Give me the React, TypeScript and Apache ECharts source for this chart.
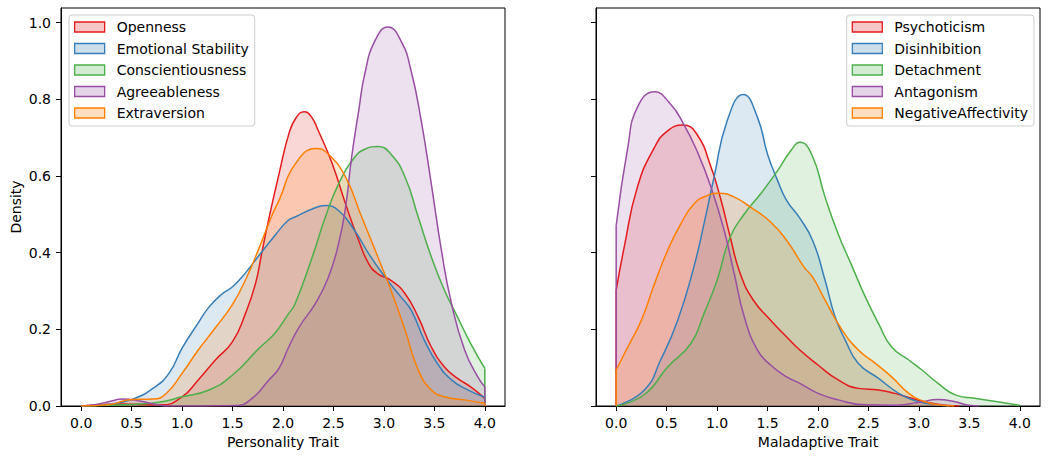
import React, { useEffect, useRef } from 'react';
import * as echarts from 'echarts';

const personalityNames = ['Openness', 'Emotional Stability', 'Conscientiousness', 'Agreeableness', 'Extraversion'];
const maladaptiveNames = ['Psychoticism', 'Disinhibition', 'Detachment', 'Antagonism', 'NegativeAffectivity'];
const palette = ['#e41a1c', '#377eb8', '#4daf4a', '#984ea3', '#ff7f00'];
const xTicks = [0, 0.5, 1, 1.5, 2, 2.5, 3, 3.5, 4];
const yTicks = [0, 0.2, 0.4, 0.6, 0.8, 1.0];

type Pt = [number, number];

const openness: Pt[] = [[0, 0], [0.4, 0.005], [0.8, 0.003], [1.0, 0.024], [1.16, 0.068], [1.33, 0.12], [1.5, 0.168], [1.63, 0.243], [1.73, 0.322], [1.79, 0.4], [1.86, 0.489], [1.96, 0.605], [2.06, 0.712], [2.13, 0.752], [2.21, 0.768], [2.28, 0.755], [2.35, 0.718], [2.49, 0.631], [2.62, 0.527], [2.75, 0.432], [2.85, 0.371], [2.94, 0.345], [3.07, 0.328], [3.21, 0.293], [3.34, 0.232], [3.47, 0.154], [3.6, 0.102], [3.73, 0.072], [3.86, 0.05], [4.0, 0.02]];
const emotionalStability: Pt[] = [[0, 0], [0.25, 0.004], [0.5, 0.017], [0.71, 0.046], [0.87, 0.085], [1.0, 0.151], [1.16, 0.217], [1.26, 0.256], [1.39, 0.291], [1.5, 0.311], [1.63, 0.348], [1.76, 0.392], [1.92, 0.445], [2.05, 0.484], [2.12, 0.493], [2.29, 0.514], [2.42, 0.523], [2.55, 0.51], [2.71, 0.458], [2.85, 0.397], [3.01, 0.337], [3.17, 0.284], [3.27, 0.25], [3.4, 0.172], [3.53, 0.111], [3.67, 0.068], [3.83, 0.042], [4.0, 0.023]];
const conscientiousness: Pt[] = [[0, 0], [0.25, 0.002], [0.5, 0.004], [0.77, 0.01], [1.0, 0.024], [1.26, 0.041], [1.5, 0.081], [1.76, 0.15], [1.92, 0.19], [2.05, 0.239], [2.12, 0.267], [2.29, 0.389], [2.42, 0.493], [2.55, 0.579], [2.71, 0.649], [2.81, 0.67], [2.94, 0.677], [3.07, 0.657], [3.21, 0.597], [3.34, 0.493], [3.47, 0.389], [3.6, 0.302], [3.73, 0.232], [3.86, 0.163], [4.0, 0.098]];
const agreeableness: Pt[] = [[0, 0], [0.15, 0.004], [0.28, 0.012], [0.41, 0.018], [0.58, 0.013], [0.74, 0.004], [0.87, 0.0], [1.2, 0], [1.53, 0.001], [1.69, 0.019], [1.86, 0.068], [1.96, 0.098], [2.05, 0.15], [2.16, 0.206], [2.32, 0.267], [2.45, 0.336], [2.55, 0.423], [2.62, 0.519], [2.68, 0.649], [2.75, 0.77], [2.81, 0.866], [2.91, 0.952], [3.04, 0.989], [3.17, 0.952], [3.27, 0.874], [3.37, 0.744], [3.47, 0.579], [3.57, 0.406], [3.67, 0.267], [3.8, 0.146], [3.93, 0.076], [4.0, 0.05]];
const extraversion: Pt[] = [[0, 0], [0.28, 0.004], [0.5, 0.017], [0.71, 0.018], [0.84, 0.032], [1.0, 0.085], [1.16, 0.146], [1.33, 0.204], [1.5, 0.265], [1.63, 0.33], [1.76, 0.41], [1.89, 0.497], [1.96, 0.536], [2.12, 0.631], [2.33, 0.672], [2.45, 0.657], [2.62, 0.597], [2.78, 0.493], [2.94, 0.389], [3.07, 0.302], [3.21, 0.198], [3.34, 0.094], [3.47, 0.042], [3.6, 0.024], [3.8, 0.016], [4.0, 0.007]];

const psychoticism: Pt[] = [[0, 0.302], [0.08, 0.415], [0.21, 0.571], [0.38, 0.675], [0.51, 0.718], [0.66, 0.733], [0.8, 0.709], [0.94, 0.623], [1.04, 0.536], [1.13, 0.441], [1.23, 0.345], [1.36, 0.276], [1.53, 0.224], [1.69, 0.18], [1.82, 0.146], [2.0, 0.107], [2.2, 0.068], [2.4, 0.046], [2.6, 0.042], [2.76, 0.033], [2.93, 0.02], [3.09, 0.009], [3.26, 0.002], [3.4, 0]];
const disinhibition: Pt[] = [[0, 0], [0.28, 0.042], [0.44, 0.12], [0.61, 0.224], [0.77, 0.363], [0.87, 0.475], [0.97, 0.597], [1.1, 0.744], [1.26, 0.813], [1.4, 0.753], [1.5, 0.657], [1.6, 0.588], [1.69, 0.536], [1.82, 0.49], [1.95, 0.43], [2.07, 0.328], [2.17, 0.232], [2.27, 0.172], [2.4, 0.111], [2.6, 0.072], [2.8, 0.033], [2.96, 0.014], [3.12, 0.005], [3.3, 0]];
const detachment: Pt[] = [[0, 0], [0.28, 0.03], [0.51, 0.102], [0.74, 0.163], [0.87, 0.241], [1.0, 0.328], [1.13, 0.441], [1.27, 0.501], [1.43, 0.553], [1.6, 0.614], [1.73, 0.666], [1.82, 0.688], [1.94, 0.655], [2.07, 0.545], [2.2, 0.449], [2.34, 0.363], [2.47, 0.284], [2.6, 0.215], [2.73, 0.154], [2.9, 0.12], [3.03, 0.094], [3.19, 0.059], [3.36, 0.029], [3.55, 0.02], [3.78, 0.011], [4.0, 0.002]];
const antagonism: Pt[] = [[0, 0.471], [0.115, 0.675], [0.21, 0.779], [0.38, 0.82], [0.54, 0.787], [0.67, 0.735], [0.8, 0.666], [0.94, 0.571], [1.07, 0.458], [1.17, 0.345], [1.27, 0.232], [1.4, 0.146], [1.53, 0.107], [1.69, 0.076], [1.82, 0.059], [2.0, 0.033], [2.2, 0.016], [2.47, 0.003], [2.76, 0.002], [2.99, 0.009], [3.19, 0.017], [3.36, 0.011], [3.49, 0.002], [3.6, 0]];
const negativeAffectivity: Pt[] = [[0, 0.094], [0.115, 0.154], [0.25, 0.224], [0.38, 0.319], [0.51, 0.406], [0.64, 0.475], [0.77, 0.527], [0.9, 0.549], [1.02, 0.555], [1.17, 0.545], [1.33, 0.519], [1.53, 0.48], [1.69, 0.432], [1.86, 0.363], [1.95, 0.335], [2.07, 0.276], [2.24, 0.198], [2.4, 0.146], [2.57, 0.111], [2.73, 0.076], [2.9, 0.033], [3.06, 0.011], [3.22, 0.002], [3.35, 0]];

const personalityData = [openness, emotionalStability, conscientiousness, agreeableness, extraversion];
const maladaptiveData = [psychoticism, disinhibition, detachment, antagonism, negativeAffectivity];

const FONT = 'DejaVu Sans';

function rgba(hex: string, a: number) {
  const n = parseInt(hex.slice(1), 16);
  return `rgba(${(n >> 16) & 255},${(n >> 8) & 255},${n & 255},${a})`;
}

function buildSeries(names: string[], data: Pt[][], idx: number) {
  const out: any[] = [];
  for (let i = 0; i < names.length; i++) {
    const col = palette[i];
    const pts = data[i];
    out.push({
      type: 'line',
      name: names[i],
      xAxisIndex: idx,
      yAxisIndex: idx,
      data: pts,
      smooth: 0.5,
      showSymbol: false,
      symbol: 'none',
      lineStyle: { color: col, width: 1.5 },
      itemStyle: { color: col },
      areaStyle: { color: rgba(col, 0.25), origin: 'start' },
      silent: true,
    });
    const first = pts[0];
    const last = pts[pts.length - 1];
    [first, last].forEach((p) => {
      if (p[1] > 0) {
        out.push({
          type: 'line',
          xAxisIndex: idx,
          yAxisIndex: idx,
          data: [[p[0], 0], p],
          showSymbol: false,
          symbol: 'none',
          lineStyle: { color: col, width: 1.5 },
          silent: true,
        });
      }
    });
  }
  return out;
}

export default function App() {
  const ref = useRef<HTMLDivElement>(null);
  useEffect(() => {
    if (!ref.current) return;
    const chart = echarts.init(ref.current, null, { renderer: 'svg' });
    const allY = [...personalityData, ...maladaptiveData].flat().map((p) => p[1]);
    const yMax = Math.max(...allY) * 1.05;
    const axisText = { color: '#000', fontFamily: FONT, fontSize: 14 };
    const xAxisBase = (idx: number, name: string) => ({
      type: 'value',
      gridIndex: idx,
      min: -0.2,
      max: 4.2,
      name,
      nameLocation: 'middle',
      nameGap: 29,
      nameTextStyle: axisText,
      axisLine: { show: true, onZero: false, lineStyle: { color: '#000', width: 1 } },
      axisTick: { show: true, length: 5, lineStyle: { color: '#000', width: 1 }, customValues: xTicks },
      axisLabel: { ...axisText, margin: 10, customValues: xTicks, formatter: (v: number) => v.toFixed(1) },
      splitLine: { show: false },
    });
    const yAxisBase = (idx: number, showLabels: boolean) => ({
      type: 'value',
      gridIndex: idx,
      min: 0,
      max: yMax,
      name: showLabels ? 'Density' : '',
      nameLocation: 'middle',
      nameGap: 38,
      nameTextStyle: axisText,
      axisLine: { show: true, onZero: false, lineStyle: { color: '#000', width: 1 } },
      axisTick: { show: true, length: 5, lineStyle: { color: '#000', width: 1 }, customValues: yTicks },
      axisLabel: { ...axisText, show: showLabels, margin: 10, customValues: yTicks, formatter: (v: number) => v.toFixed(1) },
      splitLine: { show: false },
    });
    const legendBase = (names: string[]) => ({
      orient: 'vertical',
      top: 15,
      padding: [5, 6, 6, 5],
      itemWidth: 30,
      itemHeight: 10,
      itemGap: 7.5,
      selectedMode: false,
      backgroundColor: 'rgba(255,255,255,0.8)',
      borderColor: '#cccccc',
      borderWidth: 1,
      borderRadius: 3,
      textStyle: { color: '#000', fontFamily: FONT, fontSize: 14, lineHeight: 14, padding: [0, 0, 0, 7] },
      data: names.map((n, i) => ({
        name: n,
        icon: 'rect',
        itemStyle: { color: rgba(palette[i], 0.25), borderColor: palette[i], borderWidth: 1.3 },
      })),
    });
    chart.setOption({
      animation: false,
      backgroundColor: '#fff',
      grid: [
        { left: 61, top: 8, width: 444, height: 398, show: true, borderColor: '#000', borderWidth: 1, backgroundColor: 'transparent' },
        { left: 596, top: 8, width: 444, height: 398, show: true, borderColor: '#000', borderWidth: 1, backgroundColor: 'transparent' },
      ],
      xAxis: [xAxisBase(0, 'Personality Trait'), xAxisBase(1, 'Maladaptive Trait')],
      yAxis: [yAxisBase(0, true), yAxisBase(1, false)],
      legend: [
        { ...legendBase(personalityNames), left: 69 },
        { ...legendBase(maladaptiveNames), right: 16 },
      ],
      series: [...buildSeries(personalityNames, personalityData, 0), ...buildSeries(maladaptiveNames, maladaptiveData, 1)],
    });
    return () => chart.dispose();
  }, []);
  return <div ref={ref} style={{ position: 'fixed', left: 0, top: 0, width: 1050, height: 458 }} />;
}
